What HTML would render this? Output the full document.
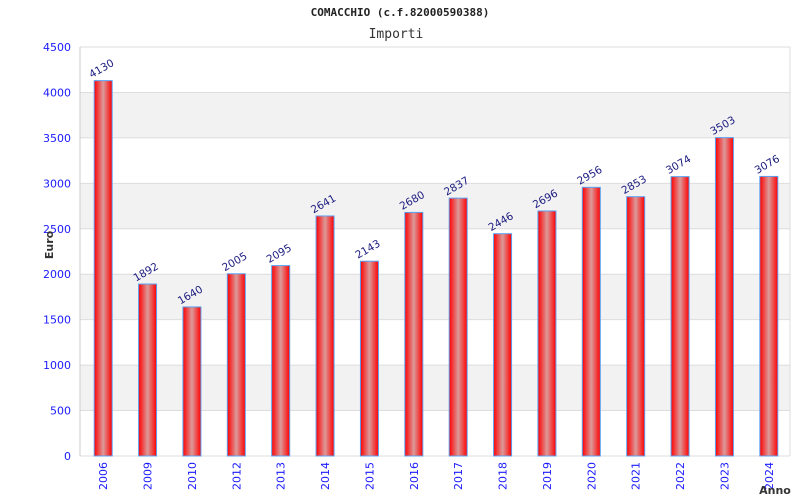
<!DOCTYPE html>
<html><head><meta charset="utf-8"><style>
body{margin:0;background:#fff;}
svg{display:block;font-family:"DejaVu Sans","Liberation Sans",sans-serif;}
</style></head><body>
<svg id="chart" width="800" height="500">
<defs>
<linearGradient id="bg" x1="0" x2="1" y1="0" y2="0">
<stop offset="0" stop-color="#ff0000"/><stop offset="0.5" stop-color="#dc9a9a"/><stop offset="1" stop-color="#ff0000"/>
</linearGradient>
</defs>
<text x="400" y="16" text-anchor="middle" font-family="DejaVu Sans Mono, Liberation Mono, monospace" font-weight="bold" font-size="11" fill="#222">COMACCHIO (c.f.82000590388)</text>
<text x="396" y="38" text-anchor="middle" font-family="DejaVu Sans Mono, Liberation Mono, monospace" font-size="13" fill="#333">Importi</text>
<g id="grid"></g>
<g id="bars"></g>
<g id="labels"></g>
<text transform="translate(53,245) rotate(-90)" text-anchor="middle" font-size="11" font-weight="bold" fill="#333">Euro</text>
<text x="775" y="494" text-anchor="middle" font-size="11" font-weight="bold" fill="#333">Anno</text>
</svg>
<script>
const categories=["2006","2009","2010","2012","2013","2014","2015","2016","2017","2018","2019","2020","2021","2022","2023","2024"];
const values=[4130,1892,1640,2005,2095,2641,2143,2680,2837,2446,2696,2956,2853,3074,3503,3076];
const yTicks=[0,500,1000,1500,2000,2500,3000,3500,4000,4500];
const NS="http://www.w3.org/2000/svg";
const L=80,R=790,T=47,B=456,YMAX=4500;
const y=v=>B-(v/YMAX)*(B-T);
const step=(R-L)/categories.length;
const x=i=>L+1+step*(i+0.5);
function mk(tag,attrs,parent){const e=document.createElementNS(NS,tag);for(const k in attrs)e.setAttribute(k,attrs[k]);parent.appendChild(e);return e;}
const grid=document.getElementById('grid'),bars=document.getElementById('bars'),labels=document.getElementById('labels');
for(let i=0;i<yTicks.length-1;i++){
  if(i%2===1){const r=mk('rect',{x:L,y:y(yTicks[i+1]),width:R-L,height:y(yTicks[i])-y(yTicks[i+1]),fill:'#f2f2f2'},grid);
  
  }
}
yTicks.forEach(t=>{
  const ln=mk('line',{x1:L,x2:R,y1:y(t),y2:y(t),stroke:'#dddddd','stroke-width':1},grid);
  
  
  const tx=mk('text',{x:71,y:y(t)+4,'text-anchor':'end','font-size':11,fill:'#1a1aff'},grid);
  tx.textContent=t;
  
  
});
const ax=mk('line',{x1:L,x2:L,y1:T,y2:B,stroke:'#cccccc'},grid);


const ax2=mk('line',{x1:R,x2:R,y1:T,y2:B,stroke:'#dddddd'},grid);


const bw=18;
categories.forEach((c,i)=>{
  const cx=x(i),v=values[i];
  const r=mk('rect',{x:cx-bw/2,y:y(v),width:bw,height:B-y(v),fill:'url(#bg)',stroke:'#5aa0f0','stroke-width':1},bars);
  
  
  const vl=mk('text',{transform:`translate(${cx},${y(v)-9}) rotate(-30)`,'text-anchor':'middle','font-size':10.5,fill:'#1a1a80'},labels);
  vl.textContent=v;
  
  
  const xl=mk('text',{transform:`translate(${cx+4},${462}) rotate(-90)`,'text-anchor':'end','font-size':11,fill:'#1a1aff'},labels);
  xl.textContent=c;
  
  
});
</script>
</body></html>
